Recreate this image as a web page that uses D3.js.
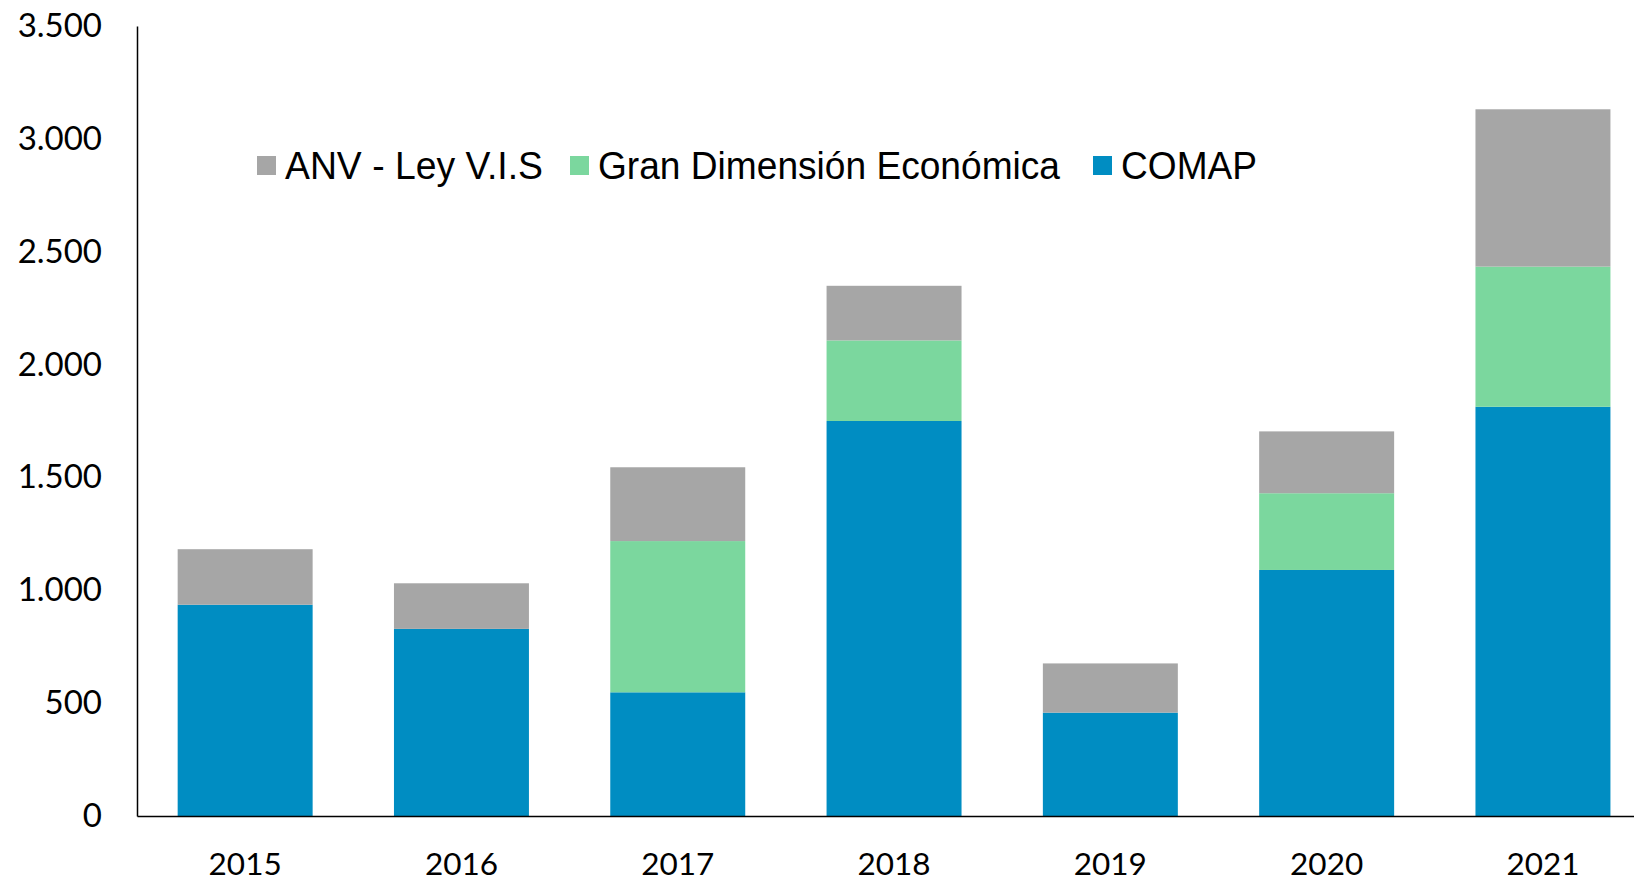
<!DOCTYPE html>
<html>
<head>
<meta charset="utf-8">
<script src="https://cdn.jsdelivr.net/npm/d3@7"></script>
<style>
  body { margin: 0; background: #fff; }
  svg { display: block; }
</style>
</head>
<body>
<svg id="chart"></svg>
<script>
// data
var years = ["2015", "2016", "2017", "2018", "2019", "2020", "2021"];
var comap = [936, 829, 548, 1750, 458, 1090, 1813];
var granDim = [0, 0, 670, 357, 0, 340, 621];
var anv = [246, 202, 327, 242, 218, 274, 697];
var seriesNames = ["ANV - Ley V.I.S", "Gran Dimensión Económica", "COMAP"];
var yTicks = [0, 500, 1000, 1500, 2000, 2500, 3000, 3500];

var W = 1634, H = 881;
var margin = { top: 26, left: 137, bottom: 65 };
var colors = { comap: "#008dc2", gran: "#7bd79e", anv: "#a6a6a6" };

var svg = d3.select("#chart").attr("width", W).attr("height", H);

// band step is wider than the picture, last bar gets cut at the edge like the original
var x = d3.scaleBand().domain(years)
    .range([margin.left, margin.left + 7 * 216.3])
    .paddingInner(0.376).paddingOuter(0.188);
var y = d3.scaleLinear().domain([0, 3500]).range([H - margin.bottom, margin.top]);

var rows = years.map(function(yr, i) {
  return { year: yr, comap: comap[i], gran: granDim[i], anv: anv[i] };
});
var stack = d3.stack().keys(["comap", "gran", "anv"]);
var layers = stack(rows);

svg.append("g").selectAll("g").data(layers).enter().append("g")
    .attr("fill", function(d) { return colors[d.key]; })
  .selectAll("rect").data(function(d) { return d; }).enter().append("rect")
    .attr("x", function(d) { return x(d.data.year); })
    .attr("width", x.bandwidth())
    .attr("y", function(d) { return y(d[1]); })
    .attr("height", function(d) { return y(d[0]) - y(d[1]); });

// y axis
var yAxis = d3.axisLeft(y).tickValues(yTicks).tickSize(0).tickPadding(35)
    .tickFormat(function(d) { return d3.format(",")(d).replace(/,/g, "."); });
var gy = svg.append("g").attr("transform", "translate(" + margin.left + ",0)").call(yAxis);
gy.select(".domain").attr("stroke", "#000").attr("stroke-width", 1.5);
gy.selectAll("text").attr("font-family", "Lato, sans-serif").attr("font-size", 33).attr("fill", "#000");

// x axis
var xAxis = d3.axisBottom(x).tickSize(0).tickPadding(37);
var gx = svg.append("g").attr("transform", "translate(0," + y(0) + ")").call(xAxis);
gx.select(".domain").attr("stroke", "#000").attr("stroke-width", 1.5);
gx.selectAll("text").attr("font-family", "Lato, sans-serif").attr("font-size", 31.5).attr("fill", "#000");

// legend
var legendItems = [
  { name: seriesNames[0], color: colors.anv, x: 257, w: 258 },
  { name: seriesNames[1], color: colors.gran, x: 570, w: 462 },
  { name: seriesNames[2], color: colors.comap, x: 1093, w: 136 }
];
var lg = svg.append("g").selectAll("g").data(legendItems).enter().append("g")
    .attr("transform", function(d) { return "translate(" + d.x + ",156)"; });
lg.append("rect").attr("width", 19).attr("height", 19).attr("fill", function(d) { return d.color; });
lg.append("text")
    .attr("x", 28).attr("y", 23)
    .attr("font-family", "'Liberation Sans', Arial, sans-serif")
    .attr("font-size", 38)
    .attr("textLength", function(d) { return d.w; })
    .attr("lengthAdjust", "spacingAndGlyphs")
    .text(function(d) { return d.name; });
</script>
</body>
</html>
